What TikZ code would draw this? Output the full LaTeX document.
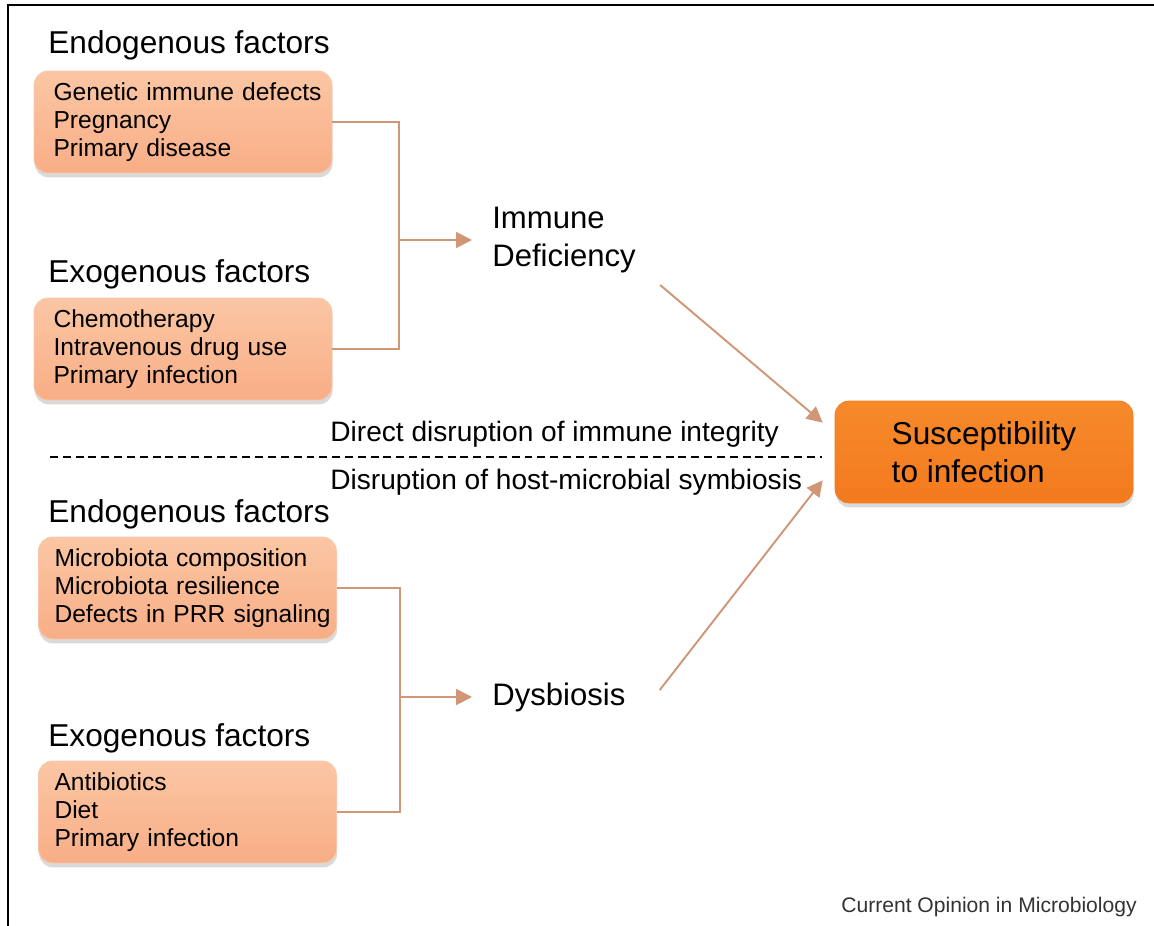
\documentclass[tikz,border=0pt]{standalone}
\usepackage{fontspec}
\setmainfont{Liberation Sans}
\usepackage{tikz}
\usetikzlibrary{arrows.meta,shadows}
\definecolor{peachtop}{RGB}{251,198,164}
\definecolor{peachbot}{RGB}{248,174,134}
\definecolor{peachedge}{RGB}{250,200,168}
\definecolor{orangetop}{RGB}{246,138,42}
\definecolor{orangebot}{RGB}{243,122,30}
\definecolor{linkbrown}{RGB}{208,150,118}

\begin{document}
\begin{tikzpicture}[x=0.02cm,y=-0.02cm,
  factor/.style={draw=peachedge,rounded corners=0.28cm,top color=peachtop,bottom color=peachbot,
    drop shadow={shadow xshift=0.4pt,shadow yshift=-2.5pt,opacity=0.3},
    minimum width=5.96cm,minimum height=2.04cm,inner xsep=0.18cm,text width=5.6cm,
    execute at begin node={\leftskip=0.21cm},
    align=left,font=\fontsize{14}{15.9}\selectfont},
  widefactor/.style={factor,inner xsep=0.1cm,text width=5.76cm,
    execute at begin node={\leftskip=0.22cm}},
  heading/.style={anchor=west,inner sep=0,font=\fontsize{18}{21.5}\selectfont},
  outcome/.style={anchor=west,inner sep=0,align=left,font=\fontsize{17.7}{21.5}\selectfont},
  remark/.style={anchor=west,inner sep=0,font=\fontsize{16}{19}\selectfont},
  link/.style={draw=linkbrown,line width=1.1pt},
  arr/.style={link,-{Triangle[length=9pt,width=9pt]}}]
\useasboundingbox (0,0) rectangle (1154,926);
\draw[line width=1.1pt] (8,926) -- (8,5) -- (1154,5);

% immune deficiency branch
\node[heading] (h1) at (48,45) {Endogenous factors};
\node[factor] (b1) at (183,122) {Genetic immune defects\\Pregnancy\\Primary disease};
\node[heading] (h2) at (48,274) {Exogenous factors};
\node[factor] (b2) at (183,349) {Chemotherapy\\Intravenous drug use\\Primary infection};
\node[outcome] (imm) at (492,240) {Immune\\Deficiency};
\coordinate (j1) at (399,240);
\draw[link] (b1.east) -| (j1) |- (b2.east);
\draw[arr,shorten >=0.4cm] (j1) -- (imm.west);

\node[remark] (l1) at (330,434) {Direct disruption of immune integrity};
\coordinate (s1) at (50,457);
\coordinate (s2) at (822,457);
\draw[dash pattern=on 4.5pt off 2.8pt,line width=0.6pt] (s1) -- (s2);
\node[remark] (l2) at (330,482) {Disruption of host-microbial symbiosis};

% dysbiosis branch
\node[heading] (h3) at (48,514) {Endogenous factors};
\node[widefactor] (b3) at (187.5,588) {Microbiota composition\\Microbiota resilience\\Defects in PRR signaling};
\node[heading] (h4) at (48,738) {Exogenous factors};
\node[widefactor] (b4) at (187.5,812) {Antibiotics\\Diet\\Primary infection};
\node[outcome] (dys) at (492,697) {Dysbiosis};
\coordinate (j2) at (400,697);
\draw[link] (b3.east) -| (j2) |- (b4.east);
\draw[arr,shorten >=0.4cm] (j2) -- (dys.west);

\node[draw=orangebot,rounded corners=0.28cm,top color=orangetop,bottom color=orangebot,
  drop shadow={shadow xshift=0.4pt,shadow yshift=-2.5pt,opacity=0.3},
  minimum width=5.96cm,minimum height=2.04cm,align=left,
  font=\fontsize{18}{21.5}\selectfont] (sus) at (984,452) {Susceptibility\\to infection};
\draw[arr] ([xshift=0.48cm,yshift=-0.9cm]imm.east) -- ([xshift=-0.24cm,yshift=-0.44cm]sus.north west);
\draw[arr] ([xshift=0.68cm,yshift=0.14cm]dys.east) -- ([xshift=-0.24cm,yshift=0.46cm]sus.south west);

\node[anchor=east,inner sep=0,text=black!80,font=\fontsize{12}{14}\selectfont] (src) at (1137,907) {Current Opinion in Microbiology};
\end{tikzpicture}
\end{document}
